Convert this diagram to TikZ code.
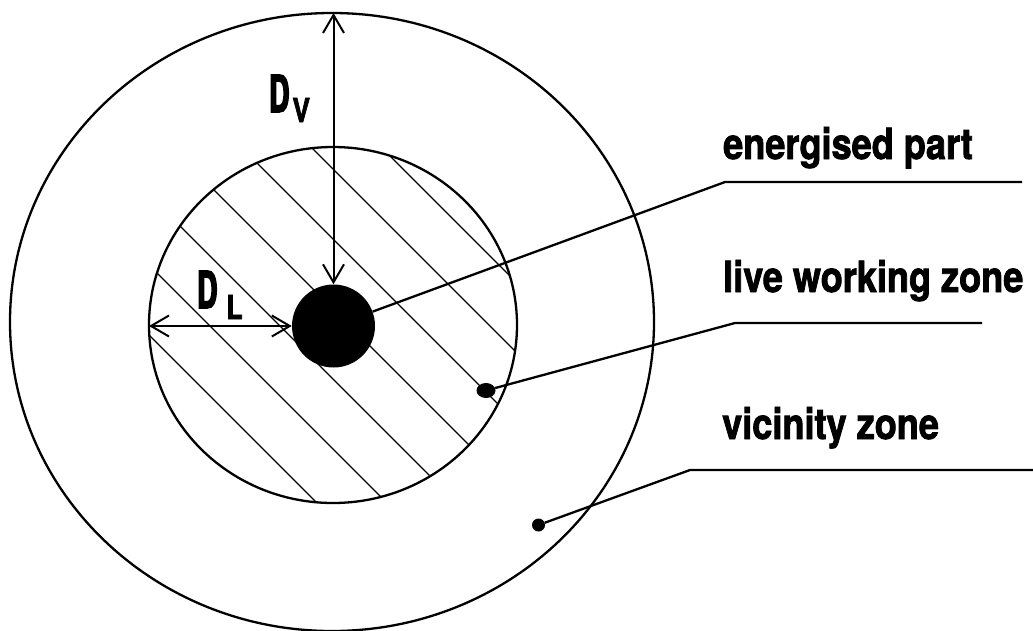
\documentclass[tikz,border=0pt]{standalone}
\usepackage{fontspec}
\newfontfamily\labelfont[FakeStretch=0.84,FakeBold=1.8]{TeX Gyre Heros}
\newfontfamily\dimfont[FakeStretch=0.55,FakeBold=3]{TeX Gyre Heros}
\newfontfamily\subfont[FakeStretch=0.8,FakeBold=2]{TeX Gyre Heros}
\usetikzlibrary{arrows.meta,shapes.geometric}
\tikzset{
  zone/.style={line width=2.3pt},
  hatch/.style={line width=1.1pt},
  leader/.style={line width=2.3pt},
  dimarrow/.style={line width=2pt,
    {Straight Barb[length=18pt,width=21pt]}-{Straight Barb[length=18pt,width=21pt]}},
  zonelabel/.style={anchor=base west,inner sep=0pt,
    font={\labelfont\bfseries\fontsize{43}{43}\selectfont}},
  dimlabel/.style={anchor=base west,inner sep=0pt,
    font={\dimfont\bfseries\fontsize{51}{51}\selectfont}},
  dot/.style={fill=black,inner sep=0pt}
}
\newcommand{\subl}[1]{{\subfont\bfseries\fontsize{33}{33}\selectfont #1}}
\begin{document}
\begin{tikzpicture}[x=1pt,y=-1pt]
\useasboundingbox (0,0) rectangle (1033,630);
% Schraffur der Arbeitszone (45 Grad, auf den inneren Kreis beschnitten)
\begin{scope}
\clip (333,325) ellipse (184 and 178);
\draw[hatch] (334,100) -- (794,560);
\draw[hatch] (264,100) -- (724,560);
\draw[hatch] (194,100) -- (654,560);
\draw[hatch] (124,100) -- (584,560);
\draw[hatch] (54,100) -- (514,560);
\draw[hatch] (-16,100) -- (444,560);
\draw[hatch] (-86,100) -- (374,560);
\end{scope}
% Annaeherungszone und Arbeitszone
\draw[zone] (332,322) ellipse (322 and 309);
\draw[zone] (333,325) ellipse (184 and 178);
% unter Spannung stehendes Teil
\node[circle,dot,minimum size=83pt] (part) at (333.5,326) {};
% Masspfeile D_V und D_L
\coordinate (vtop) at (333.5,13);
\coordinate (lleft) at (149,326);
\draw[dimarrow] (vtop) -- (part.north);
\draw[dimarrow] (lleft) -- (part.west);
\node[dimlabel] (dv) at (269,112) {D\kern3pt\raisebox{-10pt}{\subl{V}}};
\node[dimlabel] (dl) at (197,308) {D\kern9pt\raisebox{-11pt}{\subl{L}}};
% Markierungspunkte in den Zonen
\node[ellipse,dot,minimum width=19pt,minimum height=15pt] (lwdot) at (486,390.5) {};
\node[circle,dot,minimum size=13pt] (vzdot) at (538.5,525) {};
% Beschriftungen
\node[zonelabel] (eplabel) at (723,159) {energised part};
\node[zonelabel] (lwlabel) at (723,292) {live working zone};
\node[zonelabel] (vzlabel) at (722,439) {vicinity zone};
% Hinweislinien
\coordinate (epknee) at (725,182);
\coordinate (epend) at (1022,182);
\coordinate (lwknee) at (735,323);
\coordinate (lwend) at (982,323);
\coordinate (vzknee) at (690,470);
\coordinate (vzend) at (1033,470);
\draw[leader] (part) -- (epknee) -- (epend);
\draw[leader] (lwdot) -- (lwknee) -- (lwend);
\draw[leader] (vzdot) -- (vzknee) -- (vzend);
\end{tikzpicture}
\end{document}
